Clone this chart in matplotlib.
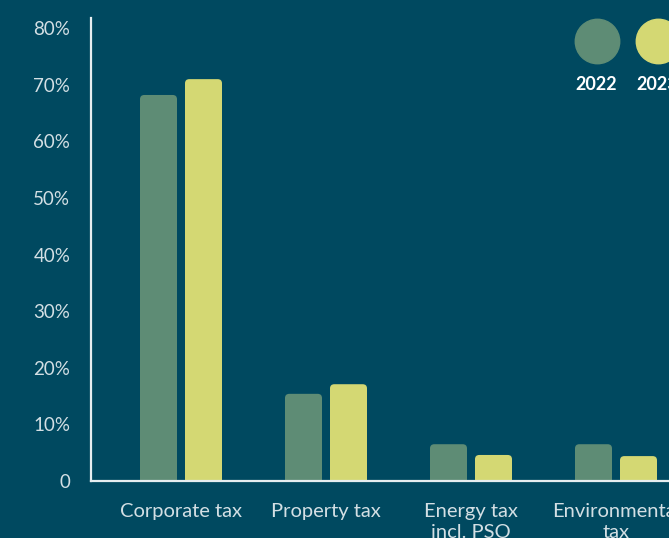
import numpy as np
import matplotlib.pyplot as plt
from matplotlib.patches import FancyBboxPatch

# Tax revenue shares by category, 2022 vs 2023
categories = ['Corporate tax', 'Property tax', 'Energy tax\nincl. PSO', 'Environmental\ntax']
years = ['2022', '2023']
share_2022 = [68.2, 15.4, 6.5, 6.5]
share_2023 = [71.0, 17.1, 4.6, 4.4]
y_ticks = [0, 10, 20, 30, 40, 50, 60, 70, 80]
y_tick_labels = ['0', '10%', '20%', '30%', '40%', '50%', '60%', '70%', '80%']

bg = '#004960'
green = '#5e8c75'
yellow = '#d4d873'
text_col = '#d3dfe4'

plt.rcParams['font.family'] = ['Lato', 'DejaVu Sans']

fig = plt.figure(figsize=(6.69, 5.38), dpi=100, facecolor=bg)
ax = fig.add_axes([91 / 669, 1 - 481 / 538, 1 - 91 / 669, (481 - 18) / 538])
ax.set_facecolor(bg)

x = np.arange(len(categories))
width = 37 / 145
offset = 22.5 / 145

bars_a = ax.bar(x - offset, share_2022, width, color=green)
bars_b = ax.bar(x + offset, share_2023, width, color=yellow)

# swap the plain rectangles for ones with rounded tops
for bars in (bars_a, bars_b):
    for b in bars:
        b.set_visible(False)
        patch = FancyBboxPatch((b.get_x(), -3), b.get_width(), b.get_height() + 3,
                               boxstyle='round,pad=0,rounding_size=0.03',
                               mutation_aspect=25, facecolor=b.get_facecolor(),
                               edgecolor='none', clip_on=True)
        ax.add_patch(patch)

ax.set_xlim(-90 / 145, (669 - 181) / 145)
ax.set_ylim(0, 81.8)

ax.set_yticks(y_ticks)
ax.set_yticklabels(y_tick_labels, fontsize=13.5, color=text_col)
ax.set_xticks(x)
ax.set_xticklabels(categories, fontsize=14.5, color=text_col, linespacing=1.25)
ax.tick_params(axis='both', length=0)
ax.tick_params(axis='x', pad=16)
ax.tick_params(axis='y', pad=15)

for side in ('top', 'right'):
    ax.spines[side].set_visible(False)
for side in ('left', 'bottom'):
    ax.spines[side].set_color('#e6eef0')
    ax.spines[side].set_linewidth(1.6)

# legend: big dots with bold years underneath
for xf, label, col in zip([596.5 / 669, 657.5 / 669], years, [green, yellow]):
    fig.lines.append(plt.Line2D([xf], [1 - 41 / 538], marker='o', markersize=32,
                                color=col, transform=fig.transFigure))
    fig.text(xf, 1 - 84 / 538, label, color='white', fontsize=13,
             fontweight='bold', ha='center', va='center')

fig.savefig('out.png', dpi=100, facecolor=bg)
